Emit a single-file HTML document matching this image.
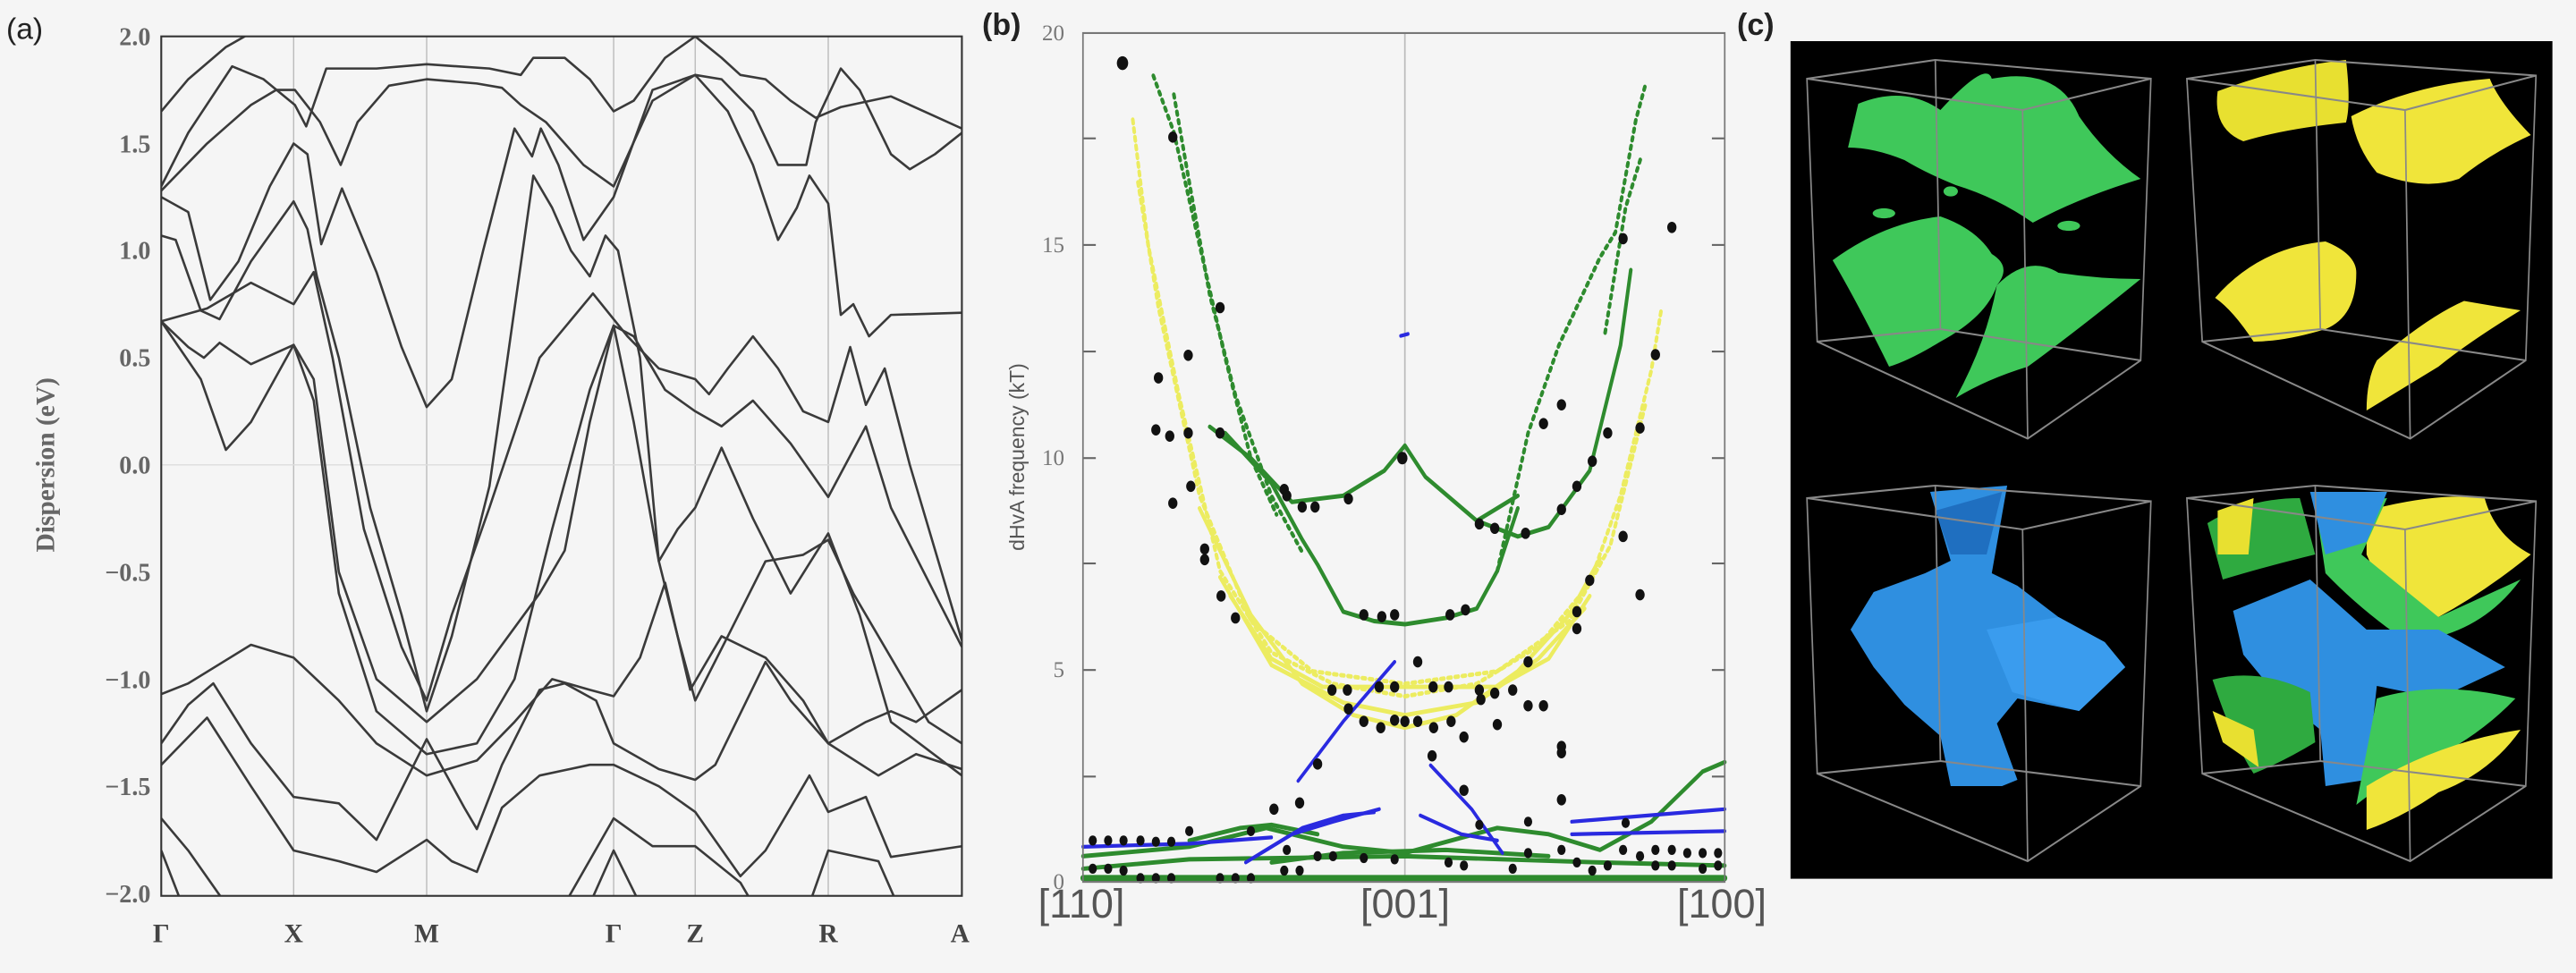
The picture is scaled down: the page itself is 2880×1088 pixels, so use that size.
<!DOCTYPE html>
<html><head><meta charset="utf-8"><style>
html,body{margin:0;padding:0;background:#f5f5f5;}
svg{display:block;}
</style></head><body>
<svg width="2880" height="1088" viewBox="0 0 2880 1088" xmlns="http://www.w3.org/2000/svg">
<rect width="2880" height="1088" fill="#f5f5f5"/>

<!-- Panel (a) in zoom coords -->
<g transform="scale(0.7015)">
  <text x="10" y="62" font-family="Liberation Sans, sans-serif" font-size="48" fill="#222">(a)</text>
  <g stroke="#bbb" stroke-width="2">
    <line x1="468" y1="58" x2="468" y2="1428"/><line x1="680" y1="58" x2="680" y2="1428"/>
    <line x1="978" y1="58" x2="978" y2="1428"/><line x1="1108" y1="58" x2="1108" y2="1428"/>
    <line x1="1320" y1="58" x2="1320" y2="1428"/>
    <line x1="257" y1="741" x2="1533" y2="741" stroke="#ddd"/>
  </g>
  <defs><clipPath id="ca"><rect x="257" y="58" width="1276" height="1370"/></clipPath></defs>
  <g clip-path="url(#ca)">
  <g transform="translate(0,741) scale(1,-341.5)" fill="none" stroke="#3a3a3a" stroke-width="2.6" stroke-linejoin="round">
   <polyline vector-effect="non-scaling-stroke" points="257,1.65 300,1.8 360,1.95 420,2.05"/>
   <polyline vector-effect="non-scaling-stroke" points="257,1.3 300,1.55 370,1.86 420,1.8 470,1.68 488,1.58 520,1.85 600,1.85 680,1.87 780,1.85 830,1.82 850,1.9 900,1.9 940,1.8 978,1.65 1010,1.7 1060,1.9 1108,2.0 1150,1.9 1180,1.82 1220,1.8 1260,1.7 1300,1.62 1340,1.67 1420,1.72 1533,1.57"/>
   <polyline vector-effect="non-scaling-stroke" points="257,1.28 330,1.5 400,1.68 440,1.75 470,1.75 510,1.6 543,1.4 570,1.6 620,1.77 680,1.8 760,1.78 800,1.76 830,1.68 870,1.6 930,1.4 978,1.3 1040,1.7 1108,1.82 1150,1.8 1200,1.65 1240,1.4 1285,1.4 1300,1.6 1340,1.85 1370,1.75 1420,1.45 1450,1.38 1490,1.45 1533,1.55"/>
   <polyline vector-effect="non-scaling-stroke" points="257,1.25 300,1.18 335,0.77 380,0.95 430,1.3 468,1.5 490,1.45 512,1.03 545,1.29 600,0.9 640,0.55 680,0.27 720,0.4 770,1.0 820,1.57 848,1.44 862,1.57 890,1.4 930,1.05 978,1.25 1040,1.75 1108,1.82 1160,1.65 1200,1.4 1240,1.05 1270,1.2 1290,1.35 1320,1.22 1340,0.7 1360,0.75 1385,0.6 1420,0.7 1533,0.71"/>
   <polyline vector-effect="non-scaling-stroke" points="257,1.07 280,1.05 320,0.72 350,0.68 400,0.95 468,1.23 490,1.1 505,0.88 540,0.5 590,-0.2 640,-0.7 680,-1.15 720,-0.8 780,-0.1 850,1.35 880,1.2 910,1.0 940,0.88 965,1.07 985,1.0 1020,0.5 1050,-0.45 1080,-0.3 1108,-0.2 1150,0.08 1200,-0.25 1260,-0.6 1320,-0.32 1370,-0.7 1420,-1.2 1533,-1.45"/>
   <polyline vector-effect="non-scaling-stroke" points="257,0.67 330,0.73 400,0.85 468,0.75 500,0.9 530,0.5 580,-0.3 640,-0.85 680,-1.1 720,-0.7 780,-0.2 860,0.5 945,0.8 1000,0.6 1050,0.45 1108,0.4 1130,0.33 1160,0.45 1200,0.6 1240,0.45 1280,0.25 1320,0.2 1355,0.55 1380,0.28 1410,0.45 1450,0.0 1533,-0.82"/>
   <polyline vector-effect="non-scaling-stroke" points="257,0.67 300,0.55 325,0.5 350,0.57 400,0.47 468,0.56 500,0.4 540,-0.5 600,-1.0 680,-1.2 760,-1.0 860,-0.6 900,-0.4 940,0.2 978,0.65 1010,0.6 1060,0.35 1108,0.25 1150,0.18 1200,0.3 1260,0.1 1320,-0.15 1380,0.18 1420,-0.2 1533,-0.85"/>
   <polyline vector-effect="non-scaling-stroke" points="257,0.67 320,0.4 360,0.07 400,0.2 468,0.56 500,0.3 540,-0.6 600,-1.15 680,-1.35 760,-1.3 820,-1.0 880,-0.3 940,0.35 978,0.65 1010,0.2 1050,-0.45 1080,-0.8 1108,-1.1 1160,-0.8 1220,-0.45 1280,-0.42 1320,-0.35 1360,-0.6 1420,-0.9 1480,-1.2 1533,-1.3"/>
   <polyline vector-effect="non-scaling-stroke" points="257,-1.07 300,-1.02 400,-0.84 468,-0.9 540,-1.1 600,-1.3 680,-1.45 760,-1.38 820,-1.2 880,-1.0 940,-1.05 978,-1.08 1020,-0.9 1060,-0.55 1100,-1.05 1150,-0.8 1220,-0.9 1280,-1.1 1320,-1.3 1380,-1.2 1420,-1.15 1460,-1.2 1533,-1.05"/>
   <polyline vector-effect="non-scaling-stroke" points="257,-1.3 300,-1.12 340,-1.02 400,-1.3 468,-1.55 540,-1.58 600,-1.75 680,-1.28 740,-1.6 760,-1.7 800,-1.4 860,-1.05 900,-1.02 950,-1.1 978,-1.3 1050,-1.42 1108,-1.47 1140,-1.4 1220,-0.92 1260,-1.1 1320,-1.3 1400,-1.45 1460,-1.35 1533,-1.42"/>
   <polyline vector-effect="non-scaling-stroke" points="257,-1.4 330,-1.18 400,-1.5 468,-1.8 540,-1.85 600,-1.9 680,-1.75 720,-1.85 760,-1.9 800,-1.6 860,-1.45 940,-1.4 978,-1.4 1050,-1.5 1108,-1.62 1180,-1.92 1220,-1.8 1290,-1.45 1320,-1.62 1380,-1.55 1420,-1.83 1533,-1.78"/>
   <polyline vector-effect="non-scaling-stroke" points="257,-1.65 300,-1.8 360,-2.05"/>
   <polyline vector-effect="non-scaling-stroke" points="257,-1.8 290,-2.05"/>
   <polyline vector-effect="non-scaling-stroke" points="900,-2.05 978,-1.65 1040,-1.78 1108,-1.78 1180,-1.95 1200,-2.05"/>
   <polyline vector-effect="non-scaling-stroke" points="940,-2.05 978,-1.8 1020,-2.05"/>
   <polyline vector-effect="non-scaling-stroke" points="1290,-2.05 1320,-1.8 1400,-1.85 1430,-2.05"/>
  </g></g>
  <rect x="257" y="58" width="1276" height="1370" fill="none" stroke="#333" stroke-width="3"/>
  <g font-family="Liberation Serif, serif" font-weight="bold" font-size="40" fill="#666" text-anchor="end">
   <text x="240" y="72">2.0</text><text x="240" y="243">1.5</text><text x="240" y="413">1.0</text>
   <text x="240" y="584">0.5</text><text x="240" y="755">0.0</text><text x="240" y="926">−0.5</text>
   <text x="240" y="1097">−1.0</text><text x="240" y="1267">−1.5</text><text x="240" y="1438">−2.0</text>
  </g>
  <text transform="translate(86,741) rotate(-90)" text-anchor="middle" font-family="Liberation Serif, serif" font-weight="bold" font-size="42" fill="#666">Dispersion (eV)</text>
  <g font-family="Liberation Serif, serif" font-weight="bold" font-size="42" fill="#444" text-anchor="middle">
   <text x="257" y="1502">Γ</text><text x="468" y="1502">X</text><text x="680" y="1502">M</text>
   <text x="978" y="1502">Γ</text><text x="1108" y="1502">Z</text><text x="1320" y="1502">R</text><text x="1530" y="1502">A</text>
  </g>
</g>

<!-- Panel (b) -->
<g transform="translate(1100,-6.5) scale(0.574,0.701)">
  <line x1="820" y1="62" x2="820" y2="1416" stroke="#bbb" stroke-width="3"/>
  <g stroke="#666" stroke-width="3">
   <line x1="193" y1="230" x2="218" y2="230"/><line x1="193" y1="400" x2="218" y2="400"/><line x1="193" y1="570" x2="218" y2="570"/>
   <line x1="193" y1="740" x2="218" y2="740"/><line x1="193" y1="908" x2="218" y2="908"/><line x1="193" y1="1078" x2="218" y2="1078"/><line x1="193" y1="1248" x2="218" y2="1248"/>
   <line x1="1418" y1="230" x2="1443" y2="230"/><line x1="1418" y1="400" x2="1443" y2="400"/><line x1="1418" y1="570" x2="1443" y2="570"/>
   <line x1="1418" y1="740" x2="1443" y2="740"/><line x1="1418" y1="908" x2="1443" y2="908"/><line x1="1418" y1="1078" x2="1443" y2="1078"/><line x1="1418" y1="1248" x2="1443" y2="1248"/>
  </g>
  <g fill="none" stroke-linecap="round" stroke-linejoin="round">
   <g stroke="#ecec50" stroke-width="7" opacity="0.9">
    <polyline points="290,200 320,400 380,640 460,920 560,1050 680,1100 820,1120 960,1100 1080,1040 1180,940 1240,800 1300,600 1320,500" stroke-dasharray="6 8"/>
    <polyline points="300,300 340,500 420,800 520,1000 640,1080 820,1100 1000,1080 1140,1000 1220,880 1290,650" stroke-dasharray="6 8"/>
    <polyline points="420,820 520,990 620,1100 720,1150 820,1170 920,1150 1040,1080 1140,990 1200,900"/>
    <polyline points="480,960 560,1060 660,1105 1000,1105 1100,1060 1180,960"/>
    <polyline points="460,930 560,1070 700,1130 820,1150 960,1130 1080,1060 1170,980"/>
   </g>
   <g stroke="#2e8b2e" stroke-width="7">
    <polyline points="440,690 520,740 600,810 700,800 780,760 820,720 860,770 960,840 1040,865 1100,850 1180,760 1240,560 1260,440"/>
    <polyline points="470,700 560,780 620,870 650,910 700,985 760,1000 820,1005 900,995 960,980 1000,920 1040,820"/>
    <polyline points="960,840 1040,800"/>
    <polyline points="330,130 370,220 420,400 470,580 520,740 570,830" stroke-dasharray="5 9"/>
    <polyline points="370,160 400,300 440,480 490,640 560,800 620,890" stroke-dasharray="5 9"/>
    <polyline points="1000,920 1060,700 1120,560 1200,420 1230,380 1270,200 1290,140" stroke-dasharray="5 9"/>
    <polyline points="1210,540 1250,340 1280,260" stroke-dasharray="5 9"/>
    <polyline points="193,1410 1443,1410" stroke-width="10"/>
    <polyline points="193,1395 400,1380 820,1375 1200,1385 1443,1390"/>
    <polyline points="193,1375 400,1360 550,1330 700,1360 820,1370 1000,1330 1100,1340 1200,1365 1300,1320 1400,1240 1443,1225"/>
    <polyline points="400,1350 500,1330 560,1325 650,1340"/>
    <polyline points="560,1385 700,1370 900,1365 1100,1375"/>
   </g>
   <g stroke="#2a2ae0" stroke-width="6">
    <polyline points="612,1255 700,1160 800,1065"/>
    <polyline points="510,1385 600,1340 680,1320 770,1300"/>
    <polyline points="540,1370 620,1330 700,1310 760,1305"/>
    <polyline points="870,1230 950,1300 1010,1370"/>
    <polyline points="850,1310 930,1340 1000,1350"/>
    <polyline points="1145,1320 1443,1300"/><polyline points="1145,1340 1443,1335"/>
    <polyline points="193,1360 400,1355 560,1345"/>
    <polyline points="812,545 826,542"/>
   </g>
  </g>
  <g fill="#111">
   <circle cx="270" cy="110" r="11"/><circle cx="340" cy="612" r="9"/><circle cx="335" cy="695" r="9"/><circle cx="362" cy="705" r="9"/>
   <circle cx="368" cy="228" r="9"/><circle cx="368" cy="812" r="9"/><circle cx="398" cy="576" r="9"/><circle cx="398" cy="700" r="9"/>
   <circle cx="403" cy="785" r="9"/><circle cx="430" cy="885" r="9"/><circle cx="430" cy="902" r="9"/><circle cx="460" cy="500" r="9"/>
   <circle cx="460" cy="700" r="9"/><circle cx="462" cy="960" r="9"/><circle cx="490" cy="995" r="9"/><circle cx="565" cy="1300" r="9"/>
   <circle cx="585" cy="790" r="9"/><circle cx="590" cy="800" r="9"/><circle cx="620" cy="818" r="9"/><circle cx="645" cy="818" r="9"/>
   <circle cx="710" cy="805" r="9"/><circle cx="740" cy="990" r="9"/><circle cx="775" cy="993" r="9"/><circle cx="800" cy="990" r="9"/>
   <circle cx="815" cy="740" r="10"/><circle cx="678" cy="1110" r="9"/><circle cx="708" cy="1110" r="9"/><circle cx="710" cy="1140" r="9"/>
   <circle cx="740" cy="1160" r="9"/><circle cx="770" cy="1105" r="9"/><circle cx="773" cy="1170" r="9"/><circle cx="800" cy="1105" r="9"/>
   <circle cx="800" cy="1158" r="9"/><circle cx="820" cy="1160" r="9"/><circle cx="845" cy="1065" r="9"/><circle cx="845" cy="1160" r="9"/>
   <circle cx="875" cy="1105" r="9"/><circle cx="876" cy="1170" r="9"/><circle cx="905" cy="1105" r="9"/><circle cx="910" cy="1160" r="9"/>
   <circle cx="908" cy="990" r="9"/><circle cx="938" cy="982" r="9"/><circle cx="965" cy="845" r="9"/><circle cx="995" cy="852" r="9"/>
   <circle cx="1055" cy="860" r="9"/><circle cx="935" cy="1185" r="9"/><circle cx="935" cy="1270" r="9"/><circle cx="965" cy="1110" r="9"/>
   <circle cx="968" cy="1125" r="9"/><circle cx="995" cy="1115" r="9"/><circle cx="1000" cy="1165" r="9"/><circle cx="1030" cy="1110" r="9"/>
   <circle cx="1060" cy="1065" r="9"/><circle cx="1060" cy="1135" r="9"/><circle cx="1090" cy="1135" r="9"/><circle cx="1090" cy="685" r="9"/>
   <circle cx="1125" cy="655" r="9"/><circle cx="1125" cy="822" r="9"/><circle cx="1125" cy="1200" r="9"/><circle cx="1125" cy="1210" r="9"/>
   <circle cx="1125" cy="1285" r="9"/><circle cx="1155" cy="785" r="9"/><circle cx="1155" cy="985" r="9"/><circle cx="1155" cy="1012" r="9"/>
   <circle cx="1180" cy="935" r="9"/><circle cx="1185" cy="745" r="9"/><circle cx="1215" cy="700" r="9"/><circle cx="1245" cy="390" r="9"/>
   <circle cx="1245" cy="865" r="9"/><circle cx="1278" cy="692" r="9"/><circle cx="1278" cy="958" r="9"/><circle cx="1308" cy="575" r="9"/>
   <circle cx="1340" cy="372" r="9"/><circle cx="873" cy="1215" r="9"/><circle cx="650" cy="1228" r="9"/><circle cx="615" cy="1290" r="9"/>
   <circle cx="400" cy="1335" r="8"/><circle cx="520" cy="1335" r="8"/><circle cx="800" cy="1380" r="8"/><circle cx="965" cy="1325" r="8"/>
   <circle cx="1060" cy="1320" r="8"/><circle cx="1250" cy="1322" r="8"/>
   <circle cx="212" cy="1350" r="8"/><circle cx="242" cy="1350" r="8"/><circle cx="272" cy="1350" r="8"/><circle cx="305" cy="1350" r="8"/><circle cx="335" cy="1352" r="8"/><circle cx="365" cy="1352" r="8"/>
   <circle cx="212" cy="1395" r="8"/><circle cx="242" cy="1395" r="8"/><circle cx="272" cy="1398" r="8"/><circle cx="305" cy="1410" r="8"/><circle cx="335" cy="1410" r="8"/><circle cx="365" cy="1410" r="8"/>
   <circle cx="460" cy="1410" r="8"/><circle cx="490" cy="1410" r="8"/><circle cx="520" cy="1410" r="8"/><circle cx="585" cy="1398" r="8"/><circle cx="615" cy="1398" r="8"/>
   <circle cx="590" cy="1365" r="8"/><circle cx="650" cy="1375" r="8"/><circle cx="680" cy="1375" r="8"/><circle cx="740" cy="1378" r="8"/>
   <circle cx="905" cy="1385" r="8"/><circle cx="935" cy="1390" r="8"/><circle cx="1030" cy="1395" r="8"/><circle cx="1060" cy="1370" r="8"/><circle cx="1125" cy="1365" r="8"/>
   <circle cx="1155" cy="1385" r="8"/><circle cx="1185" cy="1398" r="8"/><circle cx="1215" cy="1390" r="8"/><circle cx="1245" cy="1365" r="8"/><circle cx="1278" cy="1375" r="8"/>
   <circle cx="1308" cy="1365" r="8"/><circle cx="1340" cy="1365" r="8"/><circle cx="1370" cy="1370" r="8"/><circle cx="1400" cy="1370" r="8"/><circle cx="1430" cy="1370" r="8"/>
   <circle cx="1308" cy="1390" r="8"/><circle cx="1340" cy="1390" r="8"/><circle cx="1400" cy="1395" r="8"/><circle cx="1430" cy="1390" r="8"/>
  </g>
  <rect x="193" y="62" width="1250" height="1354" fill="none" stroke="#777" stroke-width="3"/>
</g>
<!-- Panel (b) text in page coords -->
<text x="1098" y="39" font-family="Liberation Sans, sans-serif" font-weight="bold" font-size="34" fill="#222">(b)</text>
<g font-family="Liberation Serif, serif" font-size="25" fill="#777" text-anchor="end">
  <text x="1190" y="45">20</text><text x="1190" y="282">15</text><text x="1190" y="520">10</text><text x="1190" y="757">5</text><text x="1190" y="994">0</text>
</g>
<text transform="translate(1145,511) rotate(-90)" text-anchor="middle" font-family="Liberation Sans, sans-serif" font-size="23" fill="#555">dHvA frequency (kT)</text>
<g font-family="Liberation Sans, sans-serif" font-size="45" fill="#555" text-anchor="middle">
  <text x="1209" y="1026">[110]</text><text x="1571" y="1026">[001]</text><text x="1925" y="1026">[100]</text>
</g>

<!-- Panel (c) -->
<text x="1942" y="39" font-family="Liberation Sans, sans-serif" font-weight="bold" font-size="34" fill="#222">(c)</text>
<g transform="translate(1980,-10) scale(0.574,0.700)">
  <rect x="38" y="80" width="1484" height="1338" fill="#000"/>
  <g>
   <path d="M170,180 Q260,150 330,190 Q420,110 430,140 Q560,120 600,200 Q650,260 720,300 Q600,330 510,370 Q440,330 360,310 Q300,290 260,270 Q200,250 150,250 Z" fill="#3fc85a"/>
   <path d="M120,430 Q220,370 330,360 Q400,380 430,420 Q470,440 440,470 Q420,520 330,560 Q270,590 230,600 Q170,500 120,430 Z" fill="#3fc85a"/>
   <path d="M440,470 Q500,420 560,450 Q640,460 720,460 Q600,540 500,600 Q420,620 360,650 Q420,560 440,470 Z" fill="#3fc85a"/>
   <ellipse cx="220" cy="355" rx="22" ry="8" fill="#3fc85a"/><ellipse cx="580" cy="375" rx="22" ry="8" fill="#3fc85a"/><ellipse cx="350" cy="320" rx="14" ry="8" fill="#3fc85a"/>
   <g fill="none" stroke="#888" stroke-width="3">
    <path d="M70,140 L320,110 L740,140 L720,590 L500,715 L90,560 Z"/>
    <path d="M70,140 L490,190 L740,140 M490,190 L500,715 M320,110 L330,540 L90,560 M330,540 L720,590"/>
   </g>
  </g>
  <g>
   <path d="M870,160 Q1000,120 1120,110 Q1130,180 1120,210 Q1000,220 920,240 Q860,220 870,160 Z" fill="#e8e030"/>
   <path d="M1130,200 Q1250,150 1400,140 Q1420,180 1480,230 Q1400,260 1340,300 Q1270,320 1180,290 Q1140,250 1130,200 Z" fill="#f0e53a"/>
   <path d="M865,490 Q950,410 1080,400 Q1140,420 1140,450 Q1140,520 1080,540 Q1000,560 940,560 Q900,510 865,490 Z" fill="#f0e53a"/>
   <path d="M1180,590 Q1280,520 1350,495 Q1420,505 1460,510 Q1360,560 1300,600 Q1240,630 1160,670 Q1160,620 1180,590 Z" fill="#f0e53a"/>
   <g fill="none" stroke="#888" stroke-width="3">
    <path d="M810,140 L1060,110 L1490,135 L1470,590 L1245,715 L840,560 Z"/>
    <path d="M810,140 L1235,190 L1490,135 M1235,190 L1245,715 M1060,110 L1070,540 L840,560 M1070,540 L1470,590"/>
   </g>
  </g>
  <g>
   <path d="M310,800 L460,790 L430,930 L480,950 L560,1000 L650,1040 L690,1080 L600,1150 L480,1130 L440,1170 L480,1260 L450,1270 L350,1270 L330,1190 L260,1140 L200,1080 L155,1020 L200,960 L300,930 L350,910 Z" fill="#2f8fe0"/>
   <path d="M320,830 L450,800 L420,900 L350,900 Z" fill="#1f6fc0"/>
   <path d="M420,1020 L560,1000 L650,1040 L690,1080 L600,1150 L470,1120 Z" fill="#3a9cee"/>
   <g fill="none" stroke="#888" stroke-width="3">
    <path d="M70,810 L320,790 L740,815 L720,1270 L500,1390 L90,1250 Z"/>
    <path d="M70,810 L490,860 L740,815 M490,860 L500,1390 M320,790 L330,1230 L90,1250 M330,1230 L720,1270"/>
   </g>
  </g>
  <g>
   <path d="M850,850 Q930,810 1030,810 L1060,900 Q960,920 880,940 Z" fill="#2faa40"/>
   <path d="M870,830 L940,810 L930,900 L870,900 Z" fill="#e8e030"/>
   <path d="M1160,830 Q1300,800 1390,810 Q1410,870 1480,900 Q1390,960 1300,1000 Q1200,980 1160,900 Z" fill="#f0e53a"/>
   <path d="M1060,820 L1200,810 L1150,900 L1300,1000 L1460,940 Q1380,1030 1240,1040 Q1150,990 1080,930 Z" fill="#3fc85a"/>
   <path d="M1050,800 L1200,800 L1160,880 L1080,900 Z" fill="#2f8fe0"/>
   <path d="M900,990 L1050,940 L1160,1020 L1300,1020 L1430,1080 L1300,1130 L1180,1110 L1160,1260 L1080,1270 L1070,1180 L980,1120 L920,1060 Z" fill="#2f8fe0"/>
   <path d="M860,1100 Q950,1080 1050,1120 L1060,1200 Q1000,1230 940,1250 Q900,1200 860,1100 Z" fill="#2faa40"/>
   <path d="M1180,1130 Q1300,1100 1450,1130 Q1380,1190 1280,1230 Q1200,1260 1140,1300 Z" fill="#3fc85a"/>
   <path d="M860,1150 L940,1180 L950,1240 L880,1200 Z" fill="#e8e030"/>
   <path d="M1160,1270 Q1300,1200 1460,1180 Q1400,1250 1300,1280 Q1230,1320 1160,1340 Z" fill="#f0e53a"/>
   <g fill="none" stroke="#888" stroke-width="3">
    <path d="M810,810 L1060,790 L1490,815 L1470,1270 L1245,1390 L840,1250 Z"/>
    <path d="M810,810 L1235,860 L1490,815 M1235,860 L1245,1390 M1060,790 L1070,1230 L840,1250 M1070,1230 L1470,1270"/>
   </g>
  </g>
</g>
</svg>
</body></html>
